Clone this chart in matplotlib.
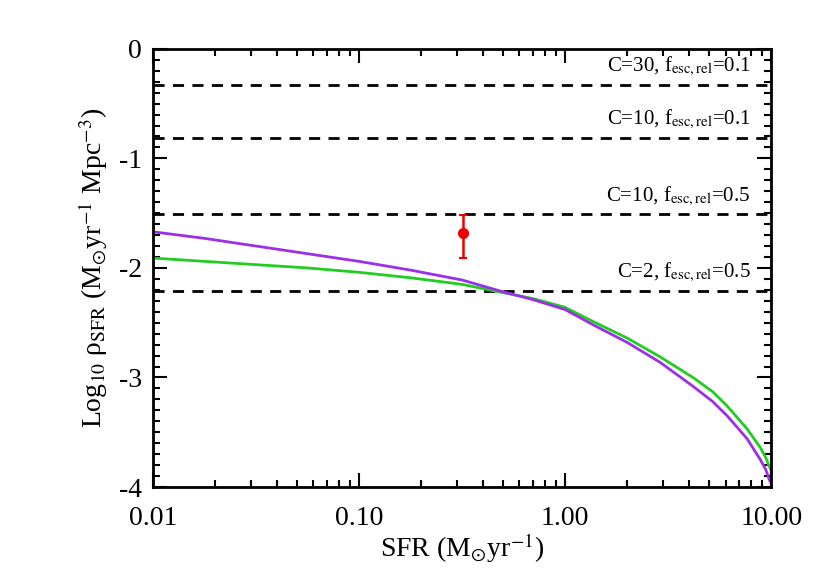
import numpy as np
import matplotlib
matplotlib.use("Agg")
import matplotlib.pyplot as plt
from matplotlib.ticker import MultipleLocator, LogLocator, FixedLocator, NullFormatter

plt.rcParams['font.family'] = ['Liberation Serif', 'DejaVu Serif']
plt.rcParams['mathtext.fontset'] = 'stix'
plt.rcParams['axes.unicode_minus'] = False

# curves (SFR limit, log10 rho_SFR)
purple_sfr = [0.01, 0.0178, 0.0316, 0.0562, 0.1, 0.178, 0.316, 0.483, 0.7, 1.0, 1.37, 2.0, 2.88, 4.17, 5.2, 6.11, 7.64, 8.85, 9.4, 9.77, 10.0]
purple_rho = [-1.67, -1.73, -1.80, -1.87, -1.94, -2.02, -2.11, -2.21, -2.29, -2.38, -2.52, -2.68, -2.86, -3.08, -3.22, -3.35, -3.56, -3.75, -3.84, -3.93, -3.97]
green_sfr = [0.01, 0.0178, 0.0316, 0.0562, 0.1, 0.178, 0.316, 0.483, 0.7, 1.0, 1.37, 2.0, 2.88, 4.17, 5.2, 6.11, 7.64, 8.85, 9.4, 9.77, 10.0]
green_rho = [-1.91, -1.94, -1.97, -2.00, -2.04, -2.09, -2.15, -2.22, -2.28, -2.36, -2.49, -2.64, -2.81, -3.00, -3.13, -3.26, -3.47, -3.64, -3.73, -3.81, -3.85]

# required SFR density for the clumping / escape fraction cases
crit_levels = [-0.33, -0.81, -1.51, -2.21]
crit_labels = [r"C=30, f$_{\rm esc,rel}$=0.1",
               r"C=10, f$_{\rm esc,rel}$=0.1",
               r"C=10, f$_{\rm esc,rel}$=0.5",
               r"C=2, f$_{\rm esc,rel}$=0.5"]

# measured point
obs_sfr = [0.32]
obs_rho = [-1.685]
obs_err_lo = [0.225]
obs_err_hi = [0.165]

fig = plt.figure(figsize=(8.17, 5.85), dpi=100)
ax = fig.add_axes([0.187, 0.1675, 0.757, 0.749])

for lev, lab in zip(crit_levels, crit_labels):
    ax.axhline(lev, color='black', lw=2.0, ls=(0, (4, 3)))
    ax.text(0.966, lev + 0.06, lab, transform=ax.get_yaxis_transform(),
            ha='right', va='bottom', fontsize=15)

ax.plot(green_sfr, green_rho, color='#22cc22', lw=2.0)
ax.plot(purple_sfr, purple_rho, color='#9b30e8', lw=2.0)

ax.errorbar(obs_sfr, obs_rho, yerr=[obs_err_lo, obs_err_hi], fmt='o',
            color='#ee0000', ms=7, elinewidth=1.8, capsize=3, capthick=1.5)

ax.set_xscale('log')
ax.set_xlim(0.01, 10)
ax.set_ylim(-4, 0)

ax.xaxis.set_major_locator(FixedLocator([0.01, 0.1, 1, 10]))
ax.xaxis.set_minor_locator(LogLocator(base=10, subs=np.arange(2, 10)))
ax.xaxis.set_minor_formatter(NullFormatter())
ax.set_xticklabels(['0.01', '0.10', '1.00', '10.00'])
ax.yaxis.set_major_locator(MultipleLocator(1))
ax.yaxis.set_minor_locator(MultipleLocator(0.1))

ax.tick_params(which='both', direction='in', top=True, right=True, labelsize=20, width=1.5)
ax.tick_params(which='major', length=10)
ax.tick_params(which='minor', length=5)
ax.tick_params(axis='x', which='major', pad=14)
ax.tick_params(axis='y', which='major', pad=8)
for s in ax.spines.values():
    s.set_linewidth(2)

ax.set_xlabel(r"SFR (M$_{\odot}$yr$^{-1}$)", fontsize=20, labelpad=0)
ax.set_ylabel(r"Log$_{10}$ ρ$_{\rm SFR}$ (M$_{\odot}$yr$^{-1}$ Mpc$^{-3}$)", fontsize=20, labelpad=6)

fig.savefig('out.png', dpi=100)
